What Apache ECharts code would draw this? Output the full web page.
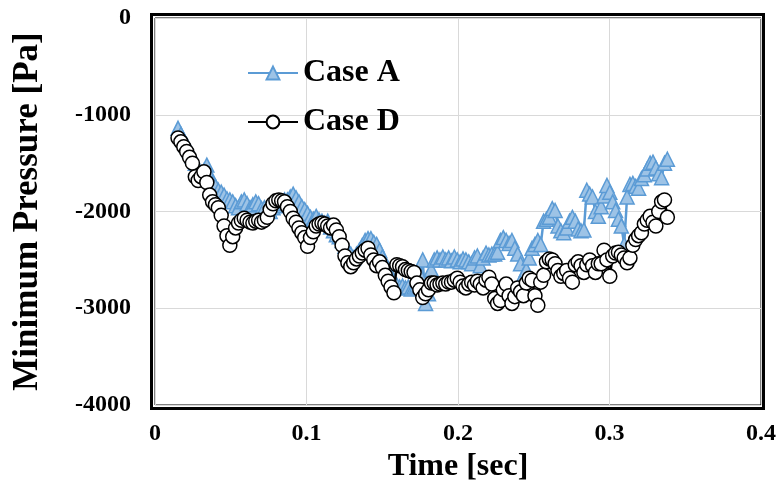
<!DOCTYPE html>
<html><head><meta charset="utf-8">
<script src="https://cdn.jsdelivr.net/npm/echarts@6/dist/echarts.min.js"></script>
<style>html,body{margin:0;padding:0;background:#fff}#c{width:780px;height:489px}</style>
</head><body><div id="c"></div>
<script>
const seriesNames = ['Case A', 'Case D'];
const xTicks = [0, 0.1, 0.2, 0.3, 0.4];
const yTicks = [-4000, -3000, -2000, -1000, 0];
const time = [
0.0152,0.0171,0.0190,0.0209,0.0228,0.0247,0.0266,0.0285,0.0304,0.0323,
0.0342,0.0361,0.0380,0.0399,0.0418,0.0437,0.0456,0.0475,0.0494,0.0513,
0.0532,0.0551,0.0570,0.0589,0.0608,0.0627,0.0646,0.0665,0.0684,0.0703,
0.0722,0.0741,0.0760,0.0779,0.0798,0.0817,0.0836,0.0855,0.0874,0.0893,
0.0912,0.0931,0.0950,0.0969,0.0988,0.1007,0.1026,0.1045,0.1064,0.1083,
0.1102,0.1121,0.1140,0.1159,0.1178,0.1197,0.1216,0.1235,0.1254,0.1273,
0.1292,0.1311,0.1330,0.1349,0.1368,0.1387,0.1406,0.1425,0.1444,0.1463,
0.1482,0.1501,0.1520,0.1539,0.1558,0.1577,0.1596,0.1615,0.1634,0.1653,
0.1672,0.1691,0.1710,0.1729,0.1748,0.1767,0.1786,0.1805,0.1824,0.1843,
0.1862,0.1881,0.1900,0.1919,0.1938,0.1957,0.1976,0.1995,0.2014,0.2033,
0.2052,0.2071,0.2090,0.2109,0.2128,0.2147,0.2166,0.2185,0.2204,0.2223,
0.2242,0.2261,0.2280,0.2299,0.2318,0.2337,0.2356,0.2375,0.2394,0.2413,
0.2432,0.2451,0.2470,0.2489,0.2508,0.2527,0.2546,0.2565,0.2584,0.2603,
0.2622,0.2641,0.2660,0.2679,0.2698,0.2717,0.2736,0.2755,0.2774,0.2793,
0.2812,0.2831,0.2850,0.2869,0.2888,0.2907,0.2926,0.2945,0.2964,0.2983,
0.3002,0.3021,0.3040,0.3059,0.3078,0.3097,0.3116,0.3135,0.3154,0.3173,
0.3192,0.3211,0.3230,0.3249,0.3268,0.3287,0.3306,0.3325,0.3344,0.3363,
0.3382,0.3401];
const pressureA = [
-1140,-1200,-1260,-1310,-1370,-1430,-1500,-1560,-1600,-1580,
-1520,-1620,-1700,-1740,-1780,-1800,-1830,-1870,-1880,-1900,
-1940,-1960,-1900,-1880,-1920,-1960,-1930,-1900,-1920,-1970,
-1960,-1990,-2000,-1960,-1940,-1920,-1900,-1880,-1880,-1850,
-1820,-1860,-1900,-1950,-1980,-2020,-2060,-2080,-2050,-2090,
-2100,-2120,-2100,-2160,-2200,-2240,-2260,-2300,-2360,-2400,
-2440,-2480,-2440,-2400,-2350,-2300,-2280,-2280,-2320,-2340,
-2400,-2470,-2540,-2600,-2680,-2720,-2760,-2780,-2770,-2790,
-2780,-2800,-2780,-2760,-2650,-2500,-2950,-2850,-2600,-2500,
-2480,-2500,-2470,-2500,-2480,-2510,-2470,-2500,-2520,-2490,
-2500,-2520,-2540,-2480,-2460,-2560,-2480,-2430,-2450,-2440,
-2440,-2420,-2300,-2270,-2300,-2330,-2300,-2380,-2440,-2540,
-2660,-2600,-2480,-2380,-2340,-2300,-2340,-2100,-2080,-2060,
-1970,-1990,-2150,-2200,-2220,-2170,-2100,-2060,-2100,-2180,
-2200,-2190,-1780,-1820,-1850,-2000,-2050,-1950,-1840,-1730,
-1800,-1900,-1990,-2080,-2150,-2340,-1850,-1720,-1710,-1740,
-1760,-1660,-1620,-1560,-1500,-1490,-1550,-1610,-1650,-1500,
-1460,null];
const pressureD = [
-1240,-1280,-1330,-1380,-1440,-1500,-1640,-1680,-1640,-1590,
-1700,-1830,-1900,-1930,-1960,-2040,-2150,-2250,-2350,-2260,
-2170,-2120,-2090,-2070,-2090,-2110,-2120,
-2100,-2090,-2110,-2090,-2060,-1980,-1920,-1890,-1880,-1890,
-1900,-1950,-2000,-2070,-2110,-2170,-2220,-2270,-2360,-2270,
-2210,-2150,-2130,-2120,-2130,-2150,-2170,-2140,-2190,-2260,
-2350,-2460,-2530,-2570,-2530,-2490,-2460,-2430,-2400,-2380,
-2450,-2500,-2560,-2520,-2580,-2660,-2720,-2780,-2840,-2550,
-2560,-2570,-2600,-2610,-2620,-2630,-2740,-2810,-2890,-2850,
-2810,-2740,-2740,-2760,-2750,-2740,-2750,-2730,-2730,-2710,-2690,
-2730,-2770,-2790,-2750,-2730,-2760,-2720,-2750,-2790,-2710,-2680,
-2750,-2900,-2950,-2920,-2810,-2750,-2870,-2950,-2880,-2790,
-2830,-2870,-2740,-2690,-2710,-2870,-2970,-2730,-2660,-2520,
-2490,-2500,-2540,-2610,-2670,-2640,-2610,-2690,-2730,-2550,
-2520,-2560,-2630,-2550,-2500,-2560,-2630,-2540,-2540,-2400,
-2500,-2670,-2460,-2430,-2420,-2450,-2480,-2530,-2480,-2350,
-2290,-2250,-2220,-2130,-2090,-2050,-2110,-2150,-2000,-1900,
-1880,-2060];

function pairs(vals){
  const out=[];
  for(let i=0;i<time.length;i++){ if(vals[i]!=null && vals[i]!==undefined) out.push([time[i], vals[i]]); }
  return out;
}
const FONT = '"Liberation Serif","Times New Roman",serif';
const chart = echarts.init(document.getElementById('c'), null, {renderer:'canvas'});
chart.setOption({
  animation:false,
  backgroundColor:'#fff',
  grid:{left:155, right:19, top:18, bottom:84, show:true, borderColor:'#000', borderWidth:1, backgroundColor:'transparent'},
  graphic:[{type:'rect', shape:{x:151.5,y:14.5,width:612,height:394}, style:{fill:'none', stroke:'#000', lineWidth:3}, silent:true, z:100}],
  legend:{
    orient:'vertical', left:242, top:52, itemWidth:50, itemHeight:16, itemGap:17,
    textStyle:{fontFamily:FONT, fontWeight:'bold', fontSize:32, color:'#000'},
    data:seriesNames
  },
  xAxis:{
    type:'value', min:xTicks[0], max:xTicks[xTicks.length-1], interval:0.1,
    name:'Time [sec]', nameLocation:'middle', nameGap:46,
    nameTextStyle:{fontFamily:FONT, fontWeight:'bold', fontSize:32, color:'#000'},
    axisLine:{show:false}, axisTick:{show:false},
    axisLabel:{fontFamily:FONT, fontWeight:'bold', fontSize:24, color:'#000', margin:17,
      formatter:v=>String(+v.toFixed(1))},
    splitLine:{show:true, lineStyle:{color:'#d9d9d9', width:1}}
  },
  yAxis:{
    type:'value', min:yTicks[0], max:yTicks[yTicks.length-1], interval:1000,
    name:'Minimum Pressure [Pa]', nameLocation:'middle', nameGap:110,
    nameTextStyle:{fontFamily:FONT, fontWeight:'bold', fontSize:35, color:'#000'},
    axisLine:{show:false}, axisTick:{show:false},
    axisLabel:{fontFamily:FONT, fontWeight:'bold', fontSize:24, color:'#000', margin:24,
      formatter:v=>String(v)},
    splitLine:{show:true, lineStyle:{color:'#d9d9d9', width:1}}
  },
  series:[
    {name:seriesNames[0], type:'line', data:pairs(pressureA), symbol:'triangle', symbolSize:14,
     lineStyle:{color:'#5B9BD5', width:2.5}, itemStyle:{color:'#9DC3E6', borderColor:'#5B9BD5', borderWidth:1.5},
     showAllSymbol:true, z:2},
    {name:seriesNames[1], type:'line', data:pairs(pressureD), symbol:'circle', symbolSize:14,
     lineStyle:{color:'#000', width:2.5}, itemStyle:{color:'#fff', borderColor:'#000', borderWidth:1.5},
     showAllSymbol:true, z:3}
  ]
});
</script></body></html>
